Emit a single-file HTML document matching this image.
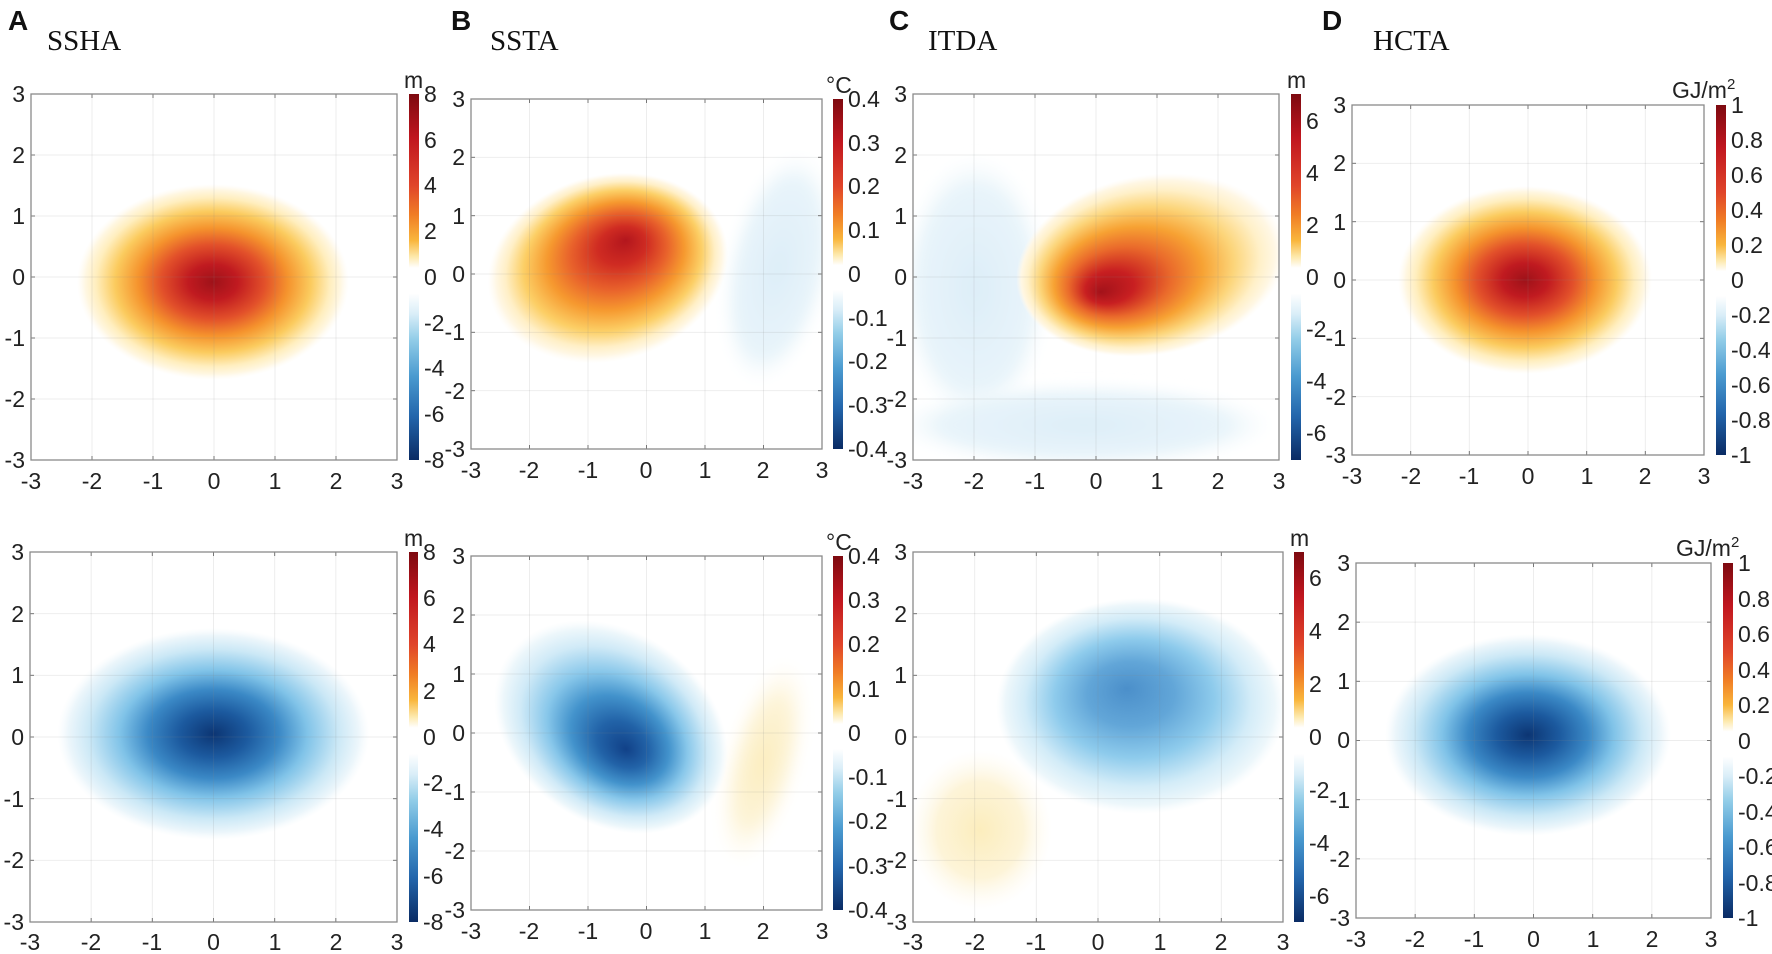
<!DOCTYPE html>
<html><head><meta charset="utf-8"><style>
html,body{margin:0;padding:0;background:#fff}
svg{display:block}
.t{font-family:"Liberation Sans",sans-serif;font-size:23px;fill:#222}
.L{font-family:"Liberation Sans",sans-serif;font-size:28px;font-weight:bold;fill:#111}
.T{font-family:"Liberation Serif",serif;font-size:29px;fill:#111}
.yl{text-anchor:end}.xl{text-anchor:middle}
</style></head><body>
<svg id="s" width="1772" height="954" viewBox="0 0 1772 954" xmlns="http://www.w3.org/2000/svg">
<defs>
<radialGradient id="red" cx="0.5" cy="0.5" r="0.5">
<stop offset="0" stop-color="#9e1219"/><stop offset="0.18" stop-color="#c01a20"/><stop offset="0.38" stop-color="#e2502a"/><stop offset="0.55" stop-color="#f5932d"/><stop offset="0.72" stop-color="#fbcb5e"/><stop offset="0.86" stop-color="#ffeebe"/><stop offset="0.94" stop-color="#fff7e2"/><stop offset="1" stop-color="#fffaf0" stop-opacity="0"/></radialGradient>
<radialGradient id="redB" cx="0.5" cy="0.5" r="0.5" fx="0.6" fy="0.38">
<stop offset="0" stop-color="#b3161d"/><stop offset="0.2" stop-color="#cf2b22"/><stop offset="0.4" stop-color="#e8612b"/><stop offset="0.57" stop-color="#f6992f"/><stop offset="0.74" stop-color="#fccf66"/><stop offset="0.87" stop-color="#ffefc6"/><stop offset="0.94" stop-color="#fff7e4"/><stop offset="1" stop-color="#fffaf0" stop-opacity="0"/></radialGradient>
<radialGradient id="redC" cx="0.5" cy="0.5" r="0.5" fx="0.3" fy="0.6">
<stop offset="0" stop-color="#a3121a"/><stop offset="0.18" stop-color="#c81f21"/><stop offset="0.38" stop-color="#ea6a2b"/><stop offset="0.55" stop-color="#f7a233"/><stop offset="0.72" stop-color="#fcd57a"/><stop offset="0.86" stop-color="#fff0c8"/><stop offset="0.94" stop-color="#fff7e4"/><stop offset="1" stop-color="#fffaf0" stop-opacity="0"/></radialGradient>
<radialGradient id="blue" cx="0.5" cy="0.5" r="0.5">
<stop offset="0" stop-color="#0c3573"/><stop offset="0.22" stop-color="#1c5a9f"/><stop offset="0.42" stop-color="#3b89c6"/><stop offset="0.6" stop-color="#80c3e8"/><stop offset="0.8" stop-color="#cbe8f6"/><stop offset="0.93" stop-color="#ecf6fb"/><stop offset="1" stop-color="#f4fafd" stop-opacity="0"/></radialGradient>
<radialGradient id="blueB" cx="0.5" cy="0.5" r="0.5" fx="0.6" fy="0.55">
<stop offset="0" stop-color="#114188"/><stop offset="0.22" stop-color="#2263a8"/><stop offset="0.42" stop-color="#4393cc"/><stop offset="0.6" stop-color="#88c7ea"/><stop offset="0.8" stop-color="#d0eaf7"/><stop offset="0.93" stop-color="#edf7fb"/><stop offset="1" stop-color="#f4fafd" stop-opacity="0"/></radialGradient>
<radialGradient id="blueM" cx="0.5" cy="0.5" r="0.5" fx="0.45" fy="0.42">
<stop offset="0" stop-color="#4b8fca"/><stop offset="0.3" stop-color="#62a6d8"/><stop offset="0.55" stop-color="#8ecbec"/><stop offset="0.78" stop-color="#d3ecf8"/><stop offset="0.93" stop-color="#edf7fb"/><stop offset="1" stop-color="#f4fafd" stop-opacity="0"/></radialGradient>
<radialGradient id="paleB" cx="0.5" cy="0.5" r="0.5">
<stop offset="0" stop-color="#ddeef8"/><stop offset="0.75" stop-color="#e8f4fa"/><stop offset="1" stop-color="#f6fbfd" stop-opacity="0"/></radialGradient>
<radialGradient id="paleY" cx="0.5" cy="0.5" r="0.5">
<stop offset="0" stop-color="#fcedbd"/><stop offset="0.6" stop-color="#fdf4d8"/><stop offset="1" stop-color="#fffbf0" stop-opacity="0"/></radialGradient>
<linearGradient id="cb" x1="0" y1="0" x2="0" y2="1">
<stop offset="0" stop-color="#7d0a10"/><stop offset="0.12" stop-color="#c0161f"/><stop offset="0.25" stop-color="#e0452a"/><stop offset="0.33" stop-color="#f07d25"/><stop offset="0.4" stop-color="#f9b63c"/><stop offset="0.445" stop-color="#fde9ac"/><stop offset="0.475" stop-color="#ffffff"/><stop offset="0.545" stop-color="#ffffff"/><stop offset="0.6" stop-color="#daeef8"/><stop offset="0.67" stop-color="#92cde8"/><stop offset="0.77" stop-color="#4b9bd0"/><stop offset="0.88" stop-color="#2366ac"/><stop offset="1" stop-color="#0a2b64"/></linearGradient>
<filter id="bl" x="-20%" y="-20%" width="140%" height="140%"><feGaussianBlur stdDeviation="6"/></filter>
<clipPath id="c1"><rect x="31" y="94" width="366" height="366"/></clipPath>
<clipPath id="c2"><rect x="471" y="99" width="351" height="350"/></clipPath>
<clipPath id="c3"><rect x="913" y="94" width="366" height="366"/></clipPath>
<clipPath id="c4"><rect x="1352" y="105" width="352" height="350"/></clipPath>
<clipPath id="c5"><rect x="30" y="552" width="367" height="370"/></clipPath>
<clipPath id="c6"><rect x="471" y="556" width="351" height="354"/></clipPath>
<clipPath id="c7"><rect x="913" y="552" width="370" height="370"/></clipPath>
<clipPath id="c8"><rect x="1356" y="563" width="355" height="355"/></clipPath>
</defs>

<g clip-path="url(#c1)"><ellipse cx="213" cy="282" rx="136" ry="98" fill="url(#red)"/></g>
<g clip-path="url(#c2)">
<ellipse cx="778" cy="268" rx="52" ry="118" transform="rotate(12 778 268)" fill="url(#paleB)" filter="url(#bl)"/>
<ellipse cx="608" cy="268" rx="122" ry="93" transform="rotate(-15 608 268)" fill="url(#redB)"/></g>
<g clip-path="url(#c3)">
<ellipse cx="975" cy="289" rx="75" ry="135" fill="url(#paleB)" filter="url(#bl)"/>
<ellipse cx="1084" cy="425" rx="190" ry="42" fill="url(#paleB)" filter="url(#bl)"/>
<ellipse cx="1151" cy="265" rx="136" ry="90" transform="rotate(-10 1151 265)" fill="url(#redC)"/></g>
<g clip-path="url(#c4)"><ellipse cx="1525" cy="280" rx="127" ry="94" fill="url(#red)"/></g>
<g clip-path="url(#c5)"><ellipse cx="213.5" cy="734" rx="156" ry="106" fill="url(#blue)"/></g>
<g clip-path="url(#c6)">
<ellipse cx="763" cy="762" rx="38" ry="106" transform="rotate(15 763 762)" fill="url(#paleY)" filter="url(#bl)"/>
<ellipse cx="611" cy="727" rx="126" ry="96" transform="rotate(35 611 727)" fill="url(#blueB)"/></g>
<g clip-path="url(#c7)">
<ellipse cx="980" cy="830" rx="72" ry="80" fill="url(#paleY)"/>
<ellipse cx="1141" cy="706" rx="145" ry="108" fill="url(#blueM)"/></g>
<g clip-path="url(#c8)"><ellipse cx="1528" cy="735" rx="143" ry="101" fill="url(#blue)"/></g>

<g id="grid"></g>

<rect x="409" y="94" width="10" height="366" fill="url(#cb)"/>
<rect x="833" y="99" width="10" height="350" fill="url(#cb)"/>
<rect x="1291" y="94" width="10" height="366" fill="url(#cb)"/>
<rect x="1716" y="105" width="10" height="350" fill="url(#cb)"/>
<rect x="409" y="552" width="9" height="370" fill="url(#cb)"/>
<rect x="833" y="556" width="10" height="354" fill="url(#cb)"/>
<rect x="1294" y="552" width="10" height="370" fill="url(#cb)"/>
<rect x="1723" y="563" width="10" height="355" fill="url(#cb)"/>

<text class="L" x="8" y="30">A</text><text class="T" x="47" y="50">SSHA</text>
<text class="L" x="451" y="30">B</text><text class="T" x="490" y="50">SSTA</text>
<text class="L" x="889" y="30">C</text><text class="T" x="928" y="50">ITDA</text>
<text class="L" x="1322" y="30">D</text><text class="T" x="1373" y="50">HCTA</text>

<g class="t yl"><text x="25" y="102">3</text><text x="25" y="163">2</text><text x="25" y="224">1</text><text x="25" y="285">0</text><text x="25" y="346">-1</text><text x="25" y="407">-2</text><text x="25" y="468">-3</text></g>
<g class="t xl"><text x="31" y="489">-3</text><text x="92" y="489">-2</text><text x="153" y="489">-1</text><text x="214" y="489">0</text><text x="275" y="489">1</text><text x="336" y="489">2</text><text x="397" y="489">3</text></g>
<g class="t"><text x="404" y="88">m</text><text x="424" y="102">8</text><text x="424" y="148">6</text><text x="424" y="193">4</text><text x="424" y="239">2</text><text x="424" y="285">0</text><text x="424" y="331">-2</text><text x="424" y="376">-4</text><text x="424" y="422">-6</text><text x="424" y="468">-8</text></g>

<g class="t yl"><text x="465" y="107">3</text><text x="465" y="165">2</text><text x="465" y="224">1</text><text x="465" y="282">0</text><text x="465" y="340">-1</text><text x="465" y="399">-2</text><text x="465" y="457">-3</text></g>
<g class="t xl"><text x="471" y="478">-3</text><text x="529" y="478">-2</text><text x="588" y="478">-1</text><text x="646" y="478">0</text><text x="705" y="478">1</text><text x="763" y="478">2</text><text x="822" y="478">3</text></g>
<g class="t"><text x="826" y="93">°C</text><text x="848" y="107">0.4</text><text x="848" y="151">0.3</text><text x="848" y="194">0.2</text><text x="848" y="238">0.1</text><text x="848" y="282">0</text><text x="848" y="326">-0.1</text><text x="848" y="369">-0.2</text><text x="848" y="413">-0.3</text><text x="848" y="457">-0.4</text></g>

<g class="t yl"><text x="907" y="102">3</text><text x="907" y="163">2</text><text x="907" y="224">1</text><text x="907" y="285">0</text><text x="907" y="346">-1</text><text x="907" y="407">-2</text><text x="907" y="468">-3</text></g>
<g class="t xl"><text x="913" y="489">-3</text><text x="974" y="489">-2</text><text x="1035" y="489">-1</text><text x="1096" y="489">0</text><text x="1157" y="489">1</text><text x="1218" y="489">2</text><text x="1279" y="489">3</text></g>
<g class="t"><text x="1287" y="88">m</text><text x="1306" y="129">6</text><text x="1306" y="181">4</text><text x="1306" y="233">2</text><text x="1306" y="285">0</text><text x="1306" y="337">-2</text><text x="1306" y="389">-4</text><text x="1306" y="441">-6</text></g>

<g class="t yl"><text x="1346" y="113">3</text><text x="1346" y="171">2</text><text x="1346" y="230">1</text><text x="1346" y="288">0</text><text x="1346" y="346">-1</text><text x="1346" y="405">-2</text><text x="1346" y="463">-3</text></g>
<g class="t xl"><text x="1352" y="484">-3</text><text x="1411" y="484">-2</text><text x="1469" y="484">-1</text><text x="1528" y="484">0</text><text x="1587" y="484">1</text><text x="1645" y="484">2</text><text x="1704" y="484">3</text></g>
<g class="t"><text x="1672" y="98">GJ/m<tspan dy="-9" font-size="15">2</tspan></text><text x="1731" y="113">1</text><text x="1731" y="148">0.8</text><text x="1731" y="183">0.6</text><text x="1731" y="218">0.4</text><text x="1731" y="253">0.2</text><text x="1731" y="288">0</text><text x="1731" y="323">-0.2</text><text x="1731" y="358">-0.4</text><text x="1731" y="393">-0.6</text><text x="1731" y="428">-0.8</text><text x="1731" y="463">-1</text></g>

<g class="t yl"><text x="24" y="560">3</text><text x="24" y="622">2</text><text x="24" y="683">1</text><text x="24" y="745">0</text><text x="24" y="807">-1</text><text x="24" y="868">-2</text><text x="24" y="930">-3</text></g>
<g class="t xl"><text x="30" y="950">-3</text><text x="91" y="950">-2</text><text x="152" y="950">-1</text><text x="213.5" y="950">0</text><text x="275" y="950">1</text><text x="336" y="950">2</text><text x="397" y="950">3</text></g>
<g class="t"><text x="404" y="546">m</text><text x="423" y="560">8</text><text x="423" y="606">6</text><text x="423" y="652">4</text><text x="423" y="699">2</text><text x="423" y="745">0</text><text x="423" y="791">-2</text><text x="423" y="837">-4</text><text x="423" y="884">-6</text><text x="423" y="930">-8</text></g>

<g class="t yl"><text x="465" y="564">3</text><text x="465" y="623">2</text><text x="465" y="682">1</text><text x="465" y="741">0</text><text x="465" y="800">-1</text><text x="465" y="859">-2</text><text x="465" y="918">-3</text></g>
<g class="t xl"><text x="471" y="939">-3</text><text x="529" y="939">-2</text><text x="588" y="939">-1</text><text x="646" y="939">0</text><text x="705" y="939">1</text><text x="763" y="939">2</text><text x="822" y="939">3</text></g>
<g class="t"><text x="826" y="550">°C</text><text x="848" y="564">0.4</text><text x="848" y="608">0.3</text><text x="848" y="652">0.2</text><text x="848" y="697">0.1</text><text x="848" y="741">0</text><text x="848" y="785">-0.1</text><text x="848" y="829">-0.2</text><text x="848" y="874">-0.3</text><text x="848" y="918">-0.4</text></g>

<g class="t yl"><text x="907" y="560">3</text><text x="907" y="622">2</text><text x="907" y="683">1</text><text x="907" y="745">0</text><text x="907" y="807">-1</text><text x="907" y="868">-2</text><text x="907" y="930">-3</text></g>
<g class="t xl"><text x="913" y="950">-3</text><text x="975" y="950">-2</text><text x="1036" y="950">-1</text><text x="1098" y="950">0</text><text x="1160" y="950">1</text><text x="1221" y="950">2</text><text x="1283" y="950">3</text></g>
<g class="t"><text x="1290" y="546">m</text><text x="1309" y="586">6</text><text x="1309" y="639">4</text><text x="1309" y="692">2</text><text x="1309" y="745">0</text><text x="1309" y="798">-2</text><text x="1309" y="851">-4</text><text x="1309" y="904">-6</text></g>

<g class="t yl"><text x="1350" y="571">3</text><text x="1350" y="630">2</text><text x="1350" y="689">1</text><text x="1350" y="748">0</text><text x="1350" y="808">-1</text><text x="1350" y="867">-2</text><text x="1350" y="926">-3</text></g>
<g class="t xl"><text x="1356" y="947">-3</text><text x="1415" y="947">-2</text><text x="1474" y="947">-1</text><text x="1533.5" y="947">0</text><text x="1593" y="947">1</text><text x="1652" y="947">2</text><text x="1711" y="947">3</text></g>
<g class="t"><text x="1676" y="556">GJ/m<tspan dy="-9" font-size="15">2</tspan></text><text x="1738" y="571">1</text><text x="1738" y="607">0.8</text><text x="1738" y="642">0.6</text><text x="1738" y="678">0.4</text><text x="1738" y="713">0.2</text><text x="1738" y="749">0</text><text x="1738" y="784">-0.2</text><text x="1738" y="820">-0.4</text><text x="1738" y="855">-0.6</text><text x="1738" y="891">-0.8</text><text x="1738" y="926">-1</text></g>
</svg>
<script>
var P=[[31,397,94,460],[471,822,99,449],[913,1279,94,460],[1352,1704,105,455],[30,397,552,922],[471,822,556,910],[913,1283,552,922],[1356,1711,563,918]];
var g=document.getElementById('grid'),h='';
P.forEach(function(p){var L=p[0],R=p[1],T=p[2],B=p[3];
for(var i=1;i<6;i++){var x=L+i*(R-L)/6,y=T+i*(B-T)/6;
h+='<line x1="'+x+'" y1="'+T+'" x2="'+x+'" y2="'+B+'" stroke="#888" stroke-opacity="0.15" stroke-width="1"/>';
h+='<line x1="'+L+'" y1="'+y+'" x2="'+R+'" y2="'+y+'" stroke="#888" stroke-opacity="0.15" stroke-width="1"/>';
h+='<line x1="'+x+'" y1="'+B+'" x2="'+x+'" y2="'+(B-4)+'" stroke="#777"/><line x1="'+x+'" y1="'+T+'" x2="'+x+'" y2="'+(T+4)+'" stroke="#777"/>';
h+='<line x1="'+L+'" y1="'+y+'" x2="'+(L+4)+'" y2="'+y+'" stroke="#777"/><line x1="'+R+'" y1="'+y+'" x2="'+(R-4)+'" y2="'+y+'" stroke="#777"/>';}
h+='<rect x="'+L+'" y="'+T+'" width="'+(R-L)+'" height="'+(B-T)+'" fill="none" stroke="#8a8a8a" stroke-width="1.3"/>';});
g.innerHTML=h;
</script>
</body></html>
